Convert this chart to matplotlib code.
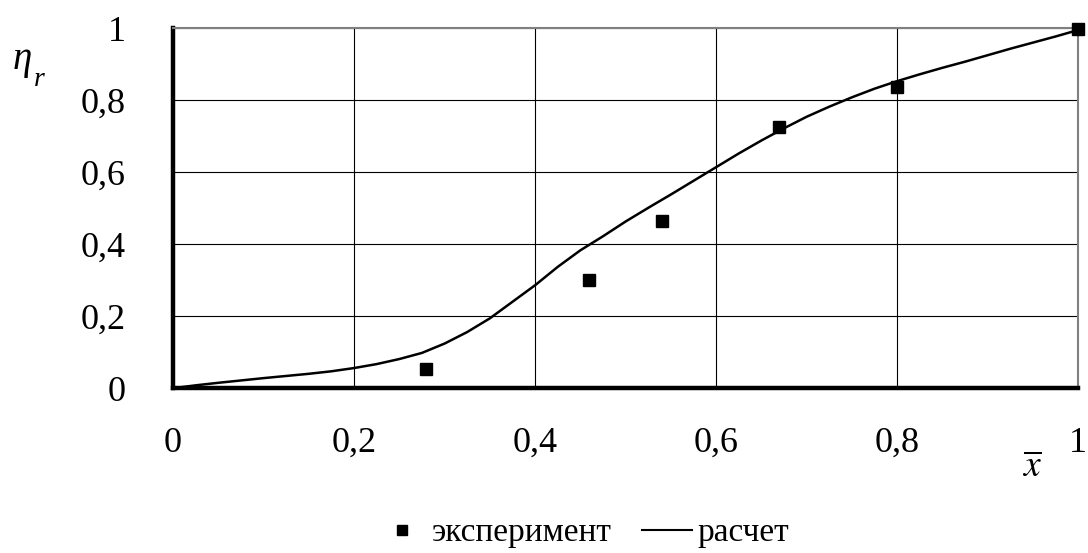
import matplotlib
matplotlib.use("Agg")
import matplotlib.pyplot as plt
from matplotlib.lines import Line2D

plt.rcParams['font.family'] = ['Liberation Serif', 'DejaVu Serif']
plt.rcParams['mathtext.fontset'] = 'stix'

# experiment points
exp_x = [0.28, 0.46, 0.54, 0.67, 0.80, 1.0]
exp_y = [0.053, 0.30, 0.464, 0.725, 0.838, 0.997]

# calculated curve
calc_x = [0, 0.025, 0.05, 0.1, 0.125, 0.15, 0.175, 0.2, 0.225, 0.25, 0.275, 0.3, 0.325,
          0.35, 0.375, 0.4, 0.425, 0.45, 0.475, 0.5, 0.525, 0.55, 0.575, 0.6, 0.625,
          0.65, 0.675, 0.7, 0.725, 0.75, 0.775, 0.8, 0.825, 0.85, 0.875, 0.9, 0.925,
          0.95, 0.975, 1.0]
calc_y = [0, 0.008, 0.015, 0.028, 0.034, 0.04, 0.047, 0.056, 0.067, 0.081, 0.098, 0.124, 0.156,
          0.194, 0.24, 0.286, 0.337, 0.383, 0.422, 0.463, 0.501, 0.538, 0.576, 0.614, 0.652,
          0.688, 0.722, 0.754, 0.782, 0.808, 0.832, 0.853, 0.872, 0.89, 0.907, 0.925, 0.943,
          0.96, 0.977, 0.995]

ticks = [0, 0.2, 0.4, 0.6, 0.8, 1]
tick_labels = ['0', '0,2', '0,4', '0,6', '0,8', '1']

fig = plt.figure(figsize=(10.88, 5.53), dpi=100)
ax = fig.add_axes([0.159, 0.298, 0.832, 0.651])

ax.plot(calc_x, calc_y, color='black', lw=1.8, zorder=3)
ax.plot(exp_x, exp_y, ls='none', marker='s', ms=8, color='black', zorder=4, clip_on=False)

ax.set_xlim(0, 1)
ax.set_ylim(0, 1)
ax.set_xticks(ticks)
ax.set_xticklabels(tick_labels)
ax.set_yticks(ticks)
ax.set_yticklabels(tick_labels)
ax.tick_params(length=0, labelsize=26)
ax.tick_params(axis='y', pad=34)
ax.tick_params(axis='x', pad=28)
ax.grid(True, color='black', lw=0.8)
ax.set_axisbelow(True)

ax.spines['left'].set_linewidth(3.2)
ax.spines['bottom'].set_linewidth(3.2)
ax.spines['top'].set_color('#808080')
ax.spines['top'].set_linewidth(1.5)
ax.spines['right'].set_color('#808080')
ax.spines['right'].set_linewidth(1.5)

# axis labels
fig.text(0.012, 0.875, 'η', fontsize=28, style='italic', ha='left', va='baseline')
fig.text(0.031, 0.845, 'r', fontsize=20, style='italic', ha='left', va='baseline')
fig.text(0.939, 0.137, r'$\overline{x}$', fontsize=27, ha='left', va='baseline')

handles = [
    Line2D([], [], ls='none', marker='s', ms=7, color='black'),
    Line2D([], [], color='black', lw=1.5),
]
fig.legend(handles, ['эксперимент', 'расчет'], loc='center', bbox_to_anchor=(0.536, 0.036),
           ncol=2, frameon=False, fontsize=24, handlelength=1.5, handletextpad=0.15,
           columnspacing=0.9, borderpad=0)

fig.savefig('out.png', dpi=100)
